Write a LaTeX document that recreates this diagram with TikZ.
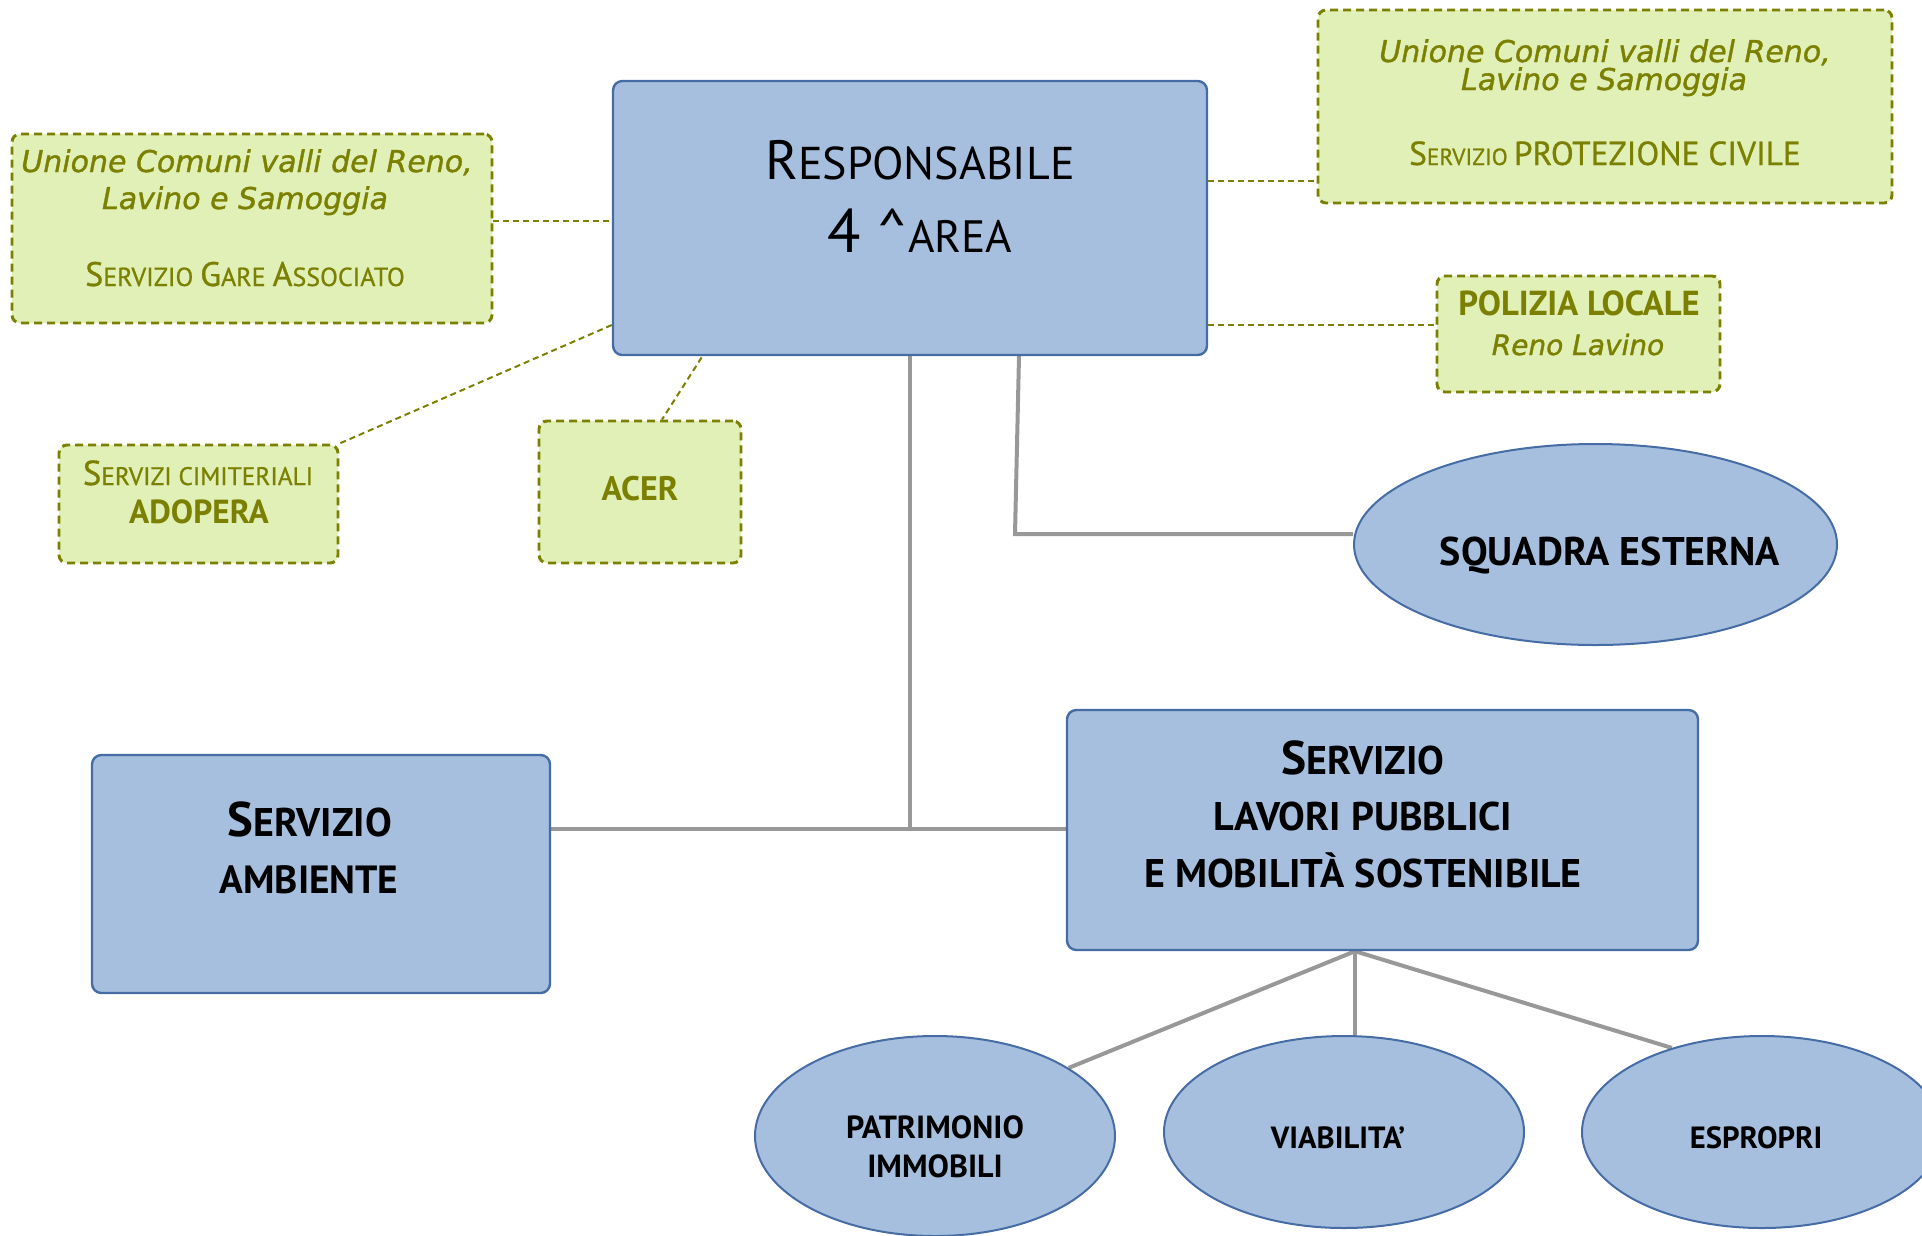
\documentclass[tikz,border=0pt]{standalone}
\usepackage{fontspec}
\setmainfont{PT Sans}
\newfontfamily\djv{DejaVu Sans}[FakeBold=1.2]
\newfontfamily\ptm{PT Sans}[FakeBold=0.8]
\usetikzlibrary{shapes.geometric,backgrounds}
\definecolor{bfill}{RGB}{167,191,222}
\definecolor{bdraw}{RGB}{70,108,165}
\definecolor{gfill}{RGB}{224,240,182}
\definecolor{olivec}{RGB}{124,128,0}
\definecolor{connc}{RGB}{152,152,152}
\newcommand\fs[1]{\fontsize{#1}{#1}\selectfont}
\begin{document}
\begin{tikzpicture}[x=0.75pt,y=-0.75pt,
  dim/.style 2 args={minimum width=#1*0.75pt,minimum height=#2*0.75pt},
  bluebox/.style={draw=bdraw,fill=bfill,line width=1.8pt,rounded corners=7pt,inner sep=0pt},
  blueell/.style={ellipse,draw=bdraw,fill=bfill,line width=1.5pt,inner sep=0pt},
  greenbox/.style={draw=olivec,fill=gfill,line width=2.2pt,dash pattern=on 6pt off 3.75pt,rounded corners=6pt,inner sep=0pt},
  txt/.style={anchor=base,inner sep=0pt,outer sep=0pt,text=black,font=\bfseries},
  gtxt/.style={anchor=base,inner sep=0pt,outer sep=0pt,text=olivec,font=\ptm},
  gital/.style={gtxt,font=\djv\itshape\fs{22.5}},
  gline/.style={draw=connc,line width=3pt},
  dline/.style={draw=olivec,line width=1.5pt,dash pattern=on 4.5pt off 3pt}]
\useasboundingbox (0,0) rectangle (1922,1235);

% boxes
\node[bluebox,dim={594}{274}] (resp) at (910,218) {};
\node[txt,font=\mdseries] (resp1) at (920,179) {\fs{41.5}R\fs{34.5}ESPONSABILE};
\node[txt,font=\mdseries] (resp2) at (920,252) {\fs{46}4 \textasciicircum\fs{34}AREA};

\node[greenbox,dim={480}{189}] (gare) at (252,228.5) {};
\node[gital] (gare1) at (247,172) {Unione Comuni valli del Reno,};
\node[gital] (gare2) at (245,209) {Lavino e Samoggia};
\node[gtxt] (gare3) at (245,286) {\fs{25.5}S\fs{19.5}ERVIZIO \fs{25.5}G\fs{19.5}ARE \fs{25.5}A\fs{19.5}SSOCIATO};

\node[greenbox,dim={574}{193}] (prot) at (1605,106.5) {};
\node[gital] (prot1) at (1605,62) {Unione Comuni valli del Reno,};
\node[gital] (prot2) at (1604,90) {Lavino e Samoggia};
\node[gtxt] (prot3) at (1605,165) {\fs{25}S\fs{17.5}ERVIZIO \fs{25}PROTEZIONE CIVILE};

\node[greenbox,dim={283}{116}] (pol) at (1578.5,334) {};
\node[gtxt,font=\bfseries] (pol1) at (1579,315) {\fs{26}POLIZIA LOCALE};
\node[gital,font=\djv\itshape\fs{21}] (pol2) at (1578,355) {Reno Lavino};

\node[greenbox,dim={279}{118}] (cim) at (198.5,504) {};
\node[gtxt] (cim1) at (198,485) {\fs{26}S\fs{19}ERVIZI CIMITERIALI};
\node[gtxt,font=\bfseries] (cim2) at (199,523) {\fs{25}ADOPERA};

\node[greenbox,dim={202}{142}] (acer) at (640,492) {};
\node[gtxt,font=\bfseries] (acer1) at (640,500) {\fs{25.5}ACER};

\node[bluebox,dim={458}{238}] (amb) at (321,874) {};
\node[txt] (amb1) at (310,836) {\fs{36.5}S\fs{30}ERVIZIO};
\node[txt] (amb2) at (309,893) {\fs{29.5}AMBIENTE};

\node[bluebox,dim={631}{240}] (lav) at (1382.5,830) {};
\node[txt] (lav1) at (1363,774) {\fs{35.5}S\fs{30}ERVIZIO};
\node[txt] (lav2) at (1363,830) {\fs{30}LAVORI PUBBLICI};
\node[txt] (lav3) at (1363,887) {\fs{30}E MOBILITÀ SOSTENIBILE};

\node[blueell,dim={483}{201}] (sq) at (1595.5,544.5) {};
\node[txt] (sq1) at (1610,565) {\fs{30}SQUADRA ESTERNA};

\node[blueell,dim={360}{200}] (patr) at (935,1136) {};
\node[txt] (patr1) at (935,1138) {\fs{24}PATRIMONIO};
\node[txt] (patr2) at (935,1177) {\fs{24}IMMOBILI};

\node[blueell,dim={360}{192}] (viab) at (1344,1132) {};
\node[txt] (viab1) at (1338,1148) {\fs{23}VIABILITA’};

\node[blueell,dim={360}{192}] (espr) at (1762,1132) {};
\node[txt] (espr1) at (1756,1148) {\fs{23}ESPROPRI};

% helper coordinates
\coordinate (j1) at (910,829);
\coordinate (k0) at (1019,0);
\coordinate (k1) at (1015,534);
\coordinate (lb) at (1355,948);
\coordinate (c0) at (0,221);
\coordinate (c1) at (0,181);
\coordinate (c2) at (0,325);
\coordinate (c3) at (707,349);
\coordinate (c4) at (662,0);

\begin{scope}[on background layer]
\draw[gline] (resp.south -| j1) -- (j1);
\draw[gline] (amb.east |- j1) -- (lav.west |- j1);
\draw[gline] (resp.south -| k0) -- (k1) -- (sq.west |- k1);
\draw[gline] (lav.south -| lb) -- (patr.27);
\draw[gline] (lav.south -| lb) -- (lb |- viab.north);
\draw[gline] (lav.south -| lb) -- (espr.137);
\draw[dline] (gare.east |- c0) -- (resp.west |- c0);
\draw[dline] (resp.east |- c1) -- (prot.west |- c1);
\draw[dline] (resp.east |- c2) -- (pol.west |- c2);
\draw[dline] (resp.west |- c2) -- (cim.north east);
\draw[dline] (c3) -- (acer.north -| c4);
\end{scope}
\end{tikzpicture}
\end{document}
